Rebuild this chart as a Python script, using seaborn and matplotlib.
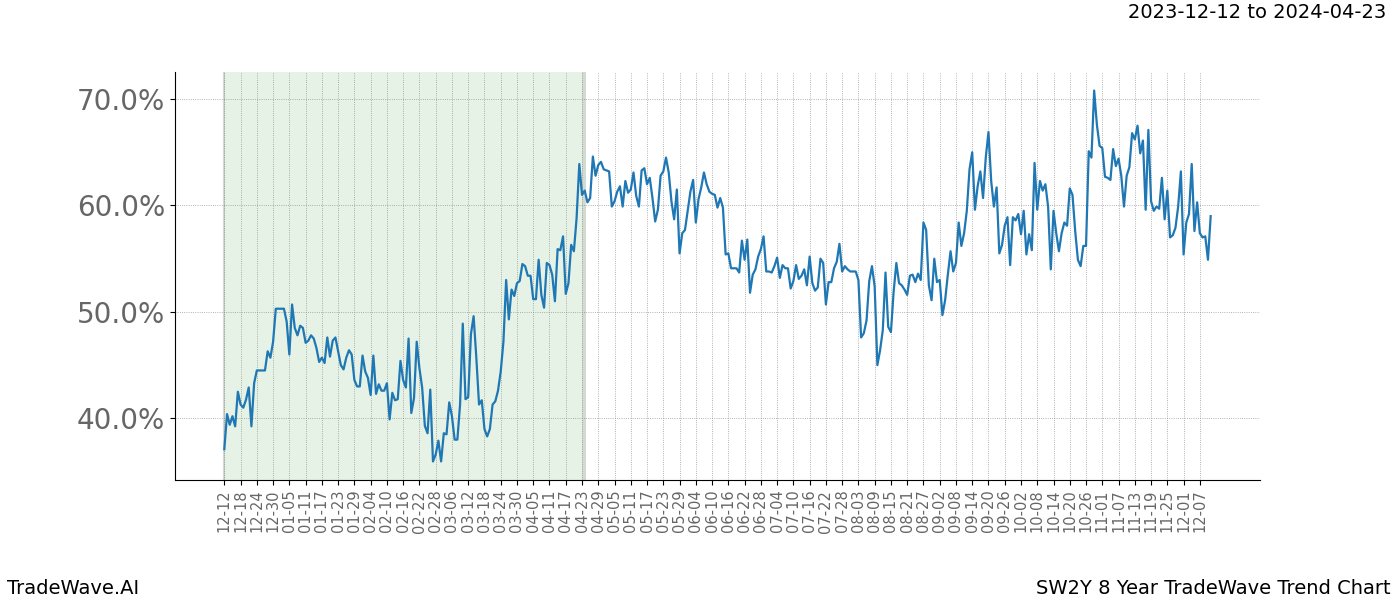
import numpy as np
import pandas as pd
import matplotlib
matplotlib.use("Agg")
import matplotlib.pyplot as plt
import seaborn as sns
from matplotlib.ticker import PercentFormatter

# ---- data -------------------------------------------------------------
start_date = "2023-12-12"
end_date = "2024-12-11"
shade_start_label = "12-12"
shade_end_label = "04-23"
header_text = "2023-12-12 to 2024-04-23"
brand_text = "TradeWave.AI"
chart_title = "SW2Y 8 Year TradeWave Trend Chart"
y_ticks = [40, 50, 60, 70]

trend_pct = [
    37.1, 40.4, 39.4, 40.2, 39.25, 42.5, 41.3, 41.0, 41.75, 42.9,
    39.25, 43.3, 44.5, 44.5, 44.5, 44.5, 46.3, 45.7, 47.2, 50.3,
    50.3, 50.3, 50.3, 49.1, 46.0, 50.7, 48.5, 47.8, 48.7, 48.5,
    47.1, 47.3, 47.8, 47.5, 46.6, 45.3, 45.7, 45.2, 47.6, 45.8,
    47.3, 47.6, 46.3, 45.0, 44.6, 45.7, 46.4, 46.0, 43.6, 43.0,
    43.0, 45.9, 44.4, 43.8, 42.2, 45.9, 42.3, 43.2, 42.6, 42.6,
    43.3, 39.9, 42.4, 41.7, 41.8, 45.4, 43.6, 42.9, 47.5, 40.5,
    41.9, 47.2, 44.7, 42.9, 39.3, 38.6, 42.7, 35.95, 36.6, 37.9,
    35.95, 38.6, 38.5, 41.5, 40.2, 38.0, 38.0, 41.3, 48.9, 41.8,
    42.0, 47.9, 49.6, 45.7, 41.3, 41.7, 39.0, 38.3, 39.0, 41.3,
    41.6, 42.6, 44.4, 47.2, 53.0, 49.3, 52.1, 51.5, 52.7, 52.9,
    54.5, 54.3, 53.4, 53.4, 51.2, 51.2, 54.9, 51.6, 50.4, 54.6,
    54.4, 53.5, 51.0, 55.9, 55.8, 57.1, 51.7, 52.7, 56.3, 55.7,
    58.8, 63.9, 61.0, 61.4, 60.3, 60.7, 64.6, 62.8, 63.8, 64.1,
    63.4, 63.3, 63.2, 59.9, 60.4, 61.3, 61.8, 59.9, 62.3, 61.2,
    61.5, 63.1, 60.9, 59.9, 63.3, 63.5, 62.0, 62.6, 60.7, 58.5,
    59.6, 62.8, 63.2, 64.5, 63.1, 60.4, 58.7, 61.5, 55.5, 57.4,
    57.7, 59.5, 61.3, 62.4, 58.4, 60.6, 61.7, 63.1, 62.0, 61.3,
    61.1, 61.0, 59.8, 60.7, 59.8, 55.4, 55.5, 54.1, 54.1, 54.1,
    53.7, 56.7, 54.9, 56.8, 51.8, 53.5, 54.0, 55.2, 55.9, 57.1,
    53.8, 53.8, 53.7, 54.3, 55.1, 53.2, 54.4, 54.1, 54.1, 52.2,
    52.9, 54.4, 53.1, 53.4, 54.0, 52.5, 55.2, 52.7, 52.0, 52.3,
    55.0, 54.6, 50.7, 52.8, 52.8, 54.1, 54.7, 56.4, 53.8, 54.3,
    54.0, 53.8, 53.8, 53.8, 53.0, 47.6, 48.0, 49.2, 52.9, 54.3,
    52.4, 45.0, 46.4, 48.3, 53.7, 48.6, 48.1, 51.9, 54.6, 52.7,
    52.5, 52.1, 51.6, 53.4, 53.5, 52.8, 53.6, 53.0, 58.4, 57.7,
    52.5, 51.1, 55.0, 52.8, 53.0, 49.7, 51.1, 53.5, 55.7, 53.8,
    54.6, 58.4, 56.2, 57.4, 59.5, 63.4, 65.0, 59.6, 61.8, 63.2,
    60.7, 64.5, 66.9, 62.3, 59.9, 61.7, 55.5, 56.3, 58.1, 58.9,
    54.4, 58.9, 58.6, 59.2, 57.3, 59.5, 55.4, 57.3, 55.8, 64.0,
    59.6, 62.3, 61.4, 62.0, 59.9, 54.0, 59.5, 57.4, 55.7, 57.4,
    58.4, 58.1, 61.6, 61.0, 57.6, 54.9, 54.3, 56.2, 56.2, 65.1,
    64.5, 70.8, 67.6, 65.6, 65.4, 62.7, 62.6, 62.4, 65.3, 63.7,
    64.4, 62.8, 59.9, 62.8, 63.6, 66.8, 66.2, 67.5, 64.9, 66.1,
    59.6, 67.1, 60.4, 59.5, 59.9, 59.7, 62.6, 58.7, 61.4, 57.0,
    57.2, 57.9, 59.9, 63.2, 55.4, 58.4, 59.2, 63.9, 57.6, 60.3,
    57.4, 57.0, 57.1, 54.9, 59.0,
]

# ---- categories (daily, no Feb 29) -------------------------------------
dates = pd.date_range(start_date, end_date)
dates = dates[~((dates.month == 2) & (dates.day == 29))]
day_labels = list(dates.strftime("%m-%d"))
n = min(len(day_labels), len(trend_pct))
df = pd.DataFrame({"idx": np.arange(n), "value": trend_pct[:n], "label": day_labels[:n]})

# ---- figure -----------------------------------------------------------
fig, ax = plt.subplots(figsize=(14, 6), dpi=100)
fig.subplots_adjust(left=0.125, right=0.9, top=0.88, bottom=0.2)

s0 = day_labels.index(shade_start_label)
s1 = day_labels.index(shade_end_label)
ax.axvspan(s0, s1 + 1.5, facecolor="green", alpha=0.1, edgecolor="none", zorder=0)
ax.axvspan(s1, s1 + 1.5, facecolor="#999999", alpha=0.25, edgecolor="none", zorder=0)
ax.axvline(s0, color="#bbbbbb", linewidth=1.5, alpha=0.6, zorder=0)

sns.lineplot(data=df, x="idx", y="value", ax=ax, color="#1f77b4", linewidth=1.6)

tick_idx = df["idx"].values[::6]
ax.set_xticks(tick_idx)
ax.set_xticklabels(df["label"].values[::6], rotation=90, fontsize=10.5, color="#666666")
ax.set_yticks(y_ticks)
ax.yaxis.set_major_formatter(PercentFormatter(decimals=1))
ax.tick_params(axis="y", labelsize=20, labelcolor="#666666")
ax.grid(True, linestyle=":", color="gray", linewidth=0.6, alpha=0.8)
ax.set_xlabel("")
ax.set_ylabel("")
sns.despine(ax=ax, top=True, right=True)

fig.text(0.99, 0.98, header_text, ha="right", va="center", fontsize=14)
fig.text(0.005, 0.02, brand_text, ha="left", va="center", fontsize=14)
fig.text(0.993, 0.02, chart_title, ha="right", va="center", fontsize=14)

fig.savefig("out.png", dpi=100)
